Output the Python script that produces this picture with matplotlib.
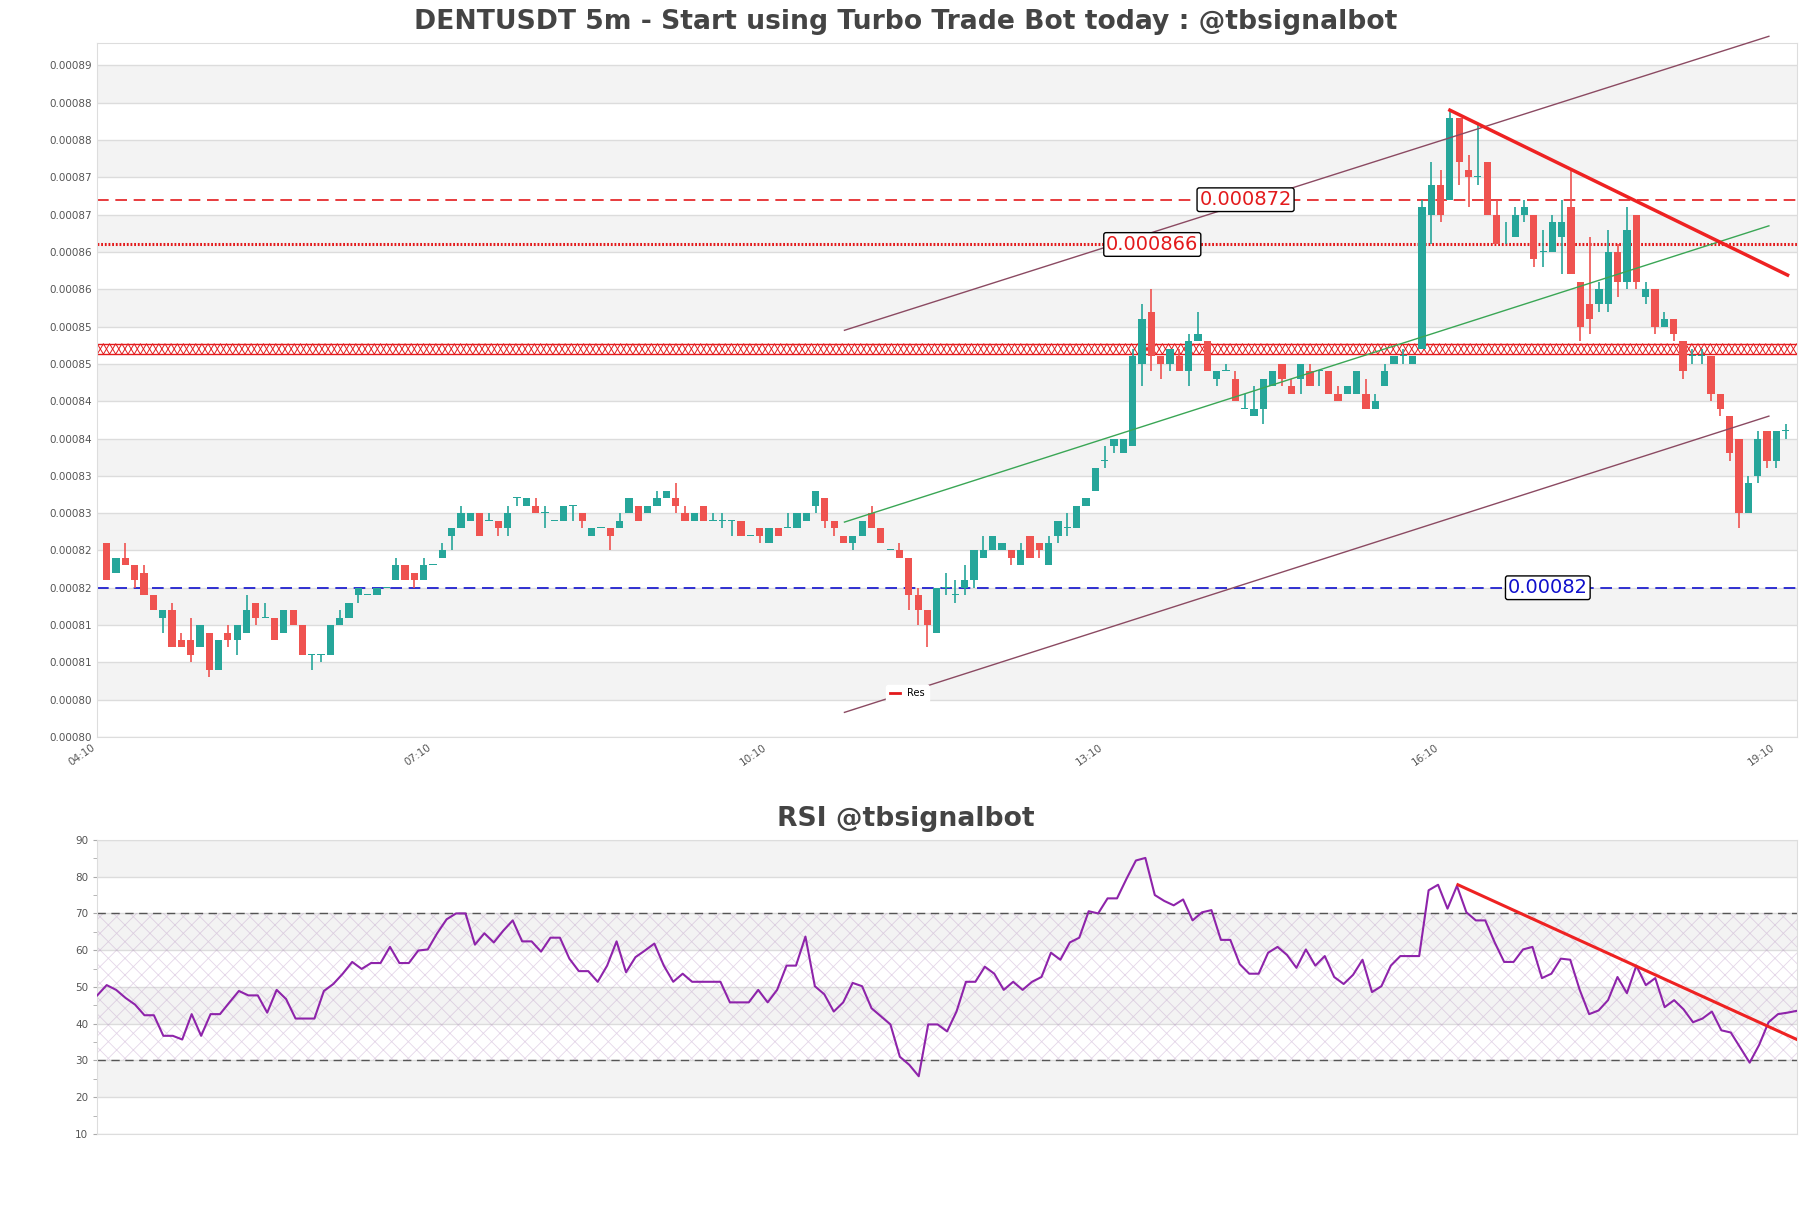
"""DENTUSDT 5m candles with trend channel + RSI panel."""

import math

import matplotlib

matplotlib.use("Agg")
import matplotlib.pyplot as plt  # noqa: E402
import numpy as np  # noqa: E402
import pandas as pd  # noqa: E402
from matplotlib.lines import Line2D  # noqa: E402
from matplotlib.ticker import FuncFormatter, MultipleLocator  # noqa: E402

# --- data (prices in micro-USDT, i.e. x 1e-6) ------------------------------
opens = [826, 822, 824, 823, 822, 819, 816, 817, 813, 813, 812, 814, 809, 814, 813, 814, 818, 816, 816, 814,
         817, 815, 811, 811, 811, 815, 816, 819, 819, 819, 820, 821, 823, 822, 821, 823, 824, 827, 828, 829,
         830, 829, 829, 828, 832, 831, 831, 830, 829, 829, 831, 830, 827, 828, 828, 828, 830, 831, 830, 831,
         832, 832, 830, 829, 831, 829, 829, 829, 829, 827, 828, 826, 828, 828, 828, 829, 831, 832, 829, 827,
         826, 827, 830, 828, 825, 825, 824, 819, 817, 814, 820, 819, 820, 821, 824, 825, 825, 825, 823, 827,
         826, 823, 827, 828, 828, 831, 833, 837, 839, 838, 839, 850, 857, 851, 850, 851, 849, 853, 853, 848,
         849, 848, 844, 843, 844, 847, 850, 847, 848, 849, 849, 849, 846, 846, 846, 846, 844, 847, 850, 851,
         850, 852, 870, 874, 872, 883, 876, 875, 877, 870, 866, 867, 870, 870, 865, 865, 867, 871, 861, 858,
         858, 858, 865, 861, 870, 859, 860, 855, 856, 853, 851, 851, 851, 846, 843, 840, 830, 835, 841, 837,
         841]
closes = [821, 824, 823, 821, 819, 817, 817, 812, 812, 811, 815, 809, 813, 813, 815, 817, 816, 816, 813, 817,
          815, 811, 811, 811, 815, 816, 818, 820, 819, 820, 820, 823, 821, 821, 823, 823, 825, 828, 830, 830,
          827, 829, 828, 830, 832, 832, 830, 830, 829, 831, 831, 829, 828, 828, 827, 829, 832, 829, 831, 832,
          833, 831, 829, 830, 829, 829, 829, 829, 827, 827, 827, 828, 827, 828, 830, 830, 833, 829, 828, 826,
          827, 829, 828, 826, 825, 824, 819, 817, 815, 820, 820, 819, 821, 825, 825, 827, 826, 824, 825, 824,
          825, 826, 829, 828, 831, 832, 836, 837, 840, 840, 851, 856, 851, 850, 852, 849, 853, 854, 849, 849,
          849, 845, 844, 844, 848, 849, 848, 846, 850, 847, 849, 846, 845, 847, 849, 844, 845, 849, 851, 851,
          851, 871, 874, 870, 883, 877, 875, 875, 870, 866, 866, 870, 871, 864, 865, 869, 869, 862, 855, 856,
          860, 865, 861, 868, 861, 860, 855, 856, 854, 849, 851, 851, 846, 844, 838, 830, 834, 840, 837, 841,
          841]
highs = [826, 824, 826, 823, 823, 819, 817, 818, 814, 816, 815, 814, 813, 815, 815, 819, 818, 818, 816, 817,
         817, 815, 811, 811, 815, 817, 818, 820, 819, 820, 820, 824, 823, 822, 824, 823, 826, 828, 831, 830,
         830, 830, 829, 831, 832, 832, 832, 831, 829, 831, 831, 830, 828, 828, 828, 830, 832, 831, 831, 833,
         833, 834, 831, 830, 831, 830, 830, 829, 829, 827, 828, 828, 828, 830, 830, 830, 833, 832, 829, 827,
         827, 829, 831, 828, 825, 826, 824, 820, 817, 820, 822, 821, 823, 825, 827, 827, 826, 825, 826, 827,
         826, 827, 829, 830, 831, 832, 836, 839, 840, 840, 852, 858, 860, 851, 852, 852, 854, 857, 853, 849,
         850, 849, 846, 847, 848, 849, 850, 848, 850, 850, 849, 849, 847, 847, 849, 848, 846, 850, 851, 852,
         851, 872, 877, 876, 884, 883, 878, 882, 877, 872, 869, 871, 872, 870, 868, 870, 872, 876, 861, 867,
         861, 868, 866, 871, 870, 861, 860, 857, 856, 853, 852, 852, 851, 846, 843, 840, 835, 841, 841, 841,
         842]
lows = [821, 822, 823, 820, 819, 817, 814, 812, 812, 810, 812, 808, 809, 812, 811, 814, 815, 816, 813, 814,
        815, 811, 809, 810, 811, 815, 816, 818, 819, 819, 820, 821, 821, 820, 821, 823, 824, 825, 828, 829,
        827, 829, 827, 827, 831, 831, 830, 828, 829, 829, 829, 828, 827, 828, 825, 828, 830, 829, 830, 831,
        832, 830, 829, 829, 829, 829, 828, 827, 827, 827, 826, 826, 827, 828, 828, 829, 830, 828, 827, 826,
        825, 827, 828, 826, 825, 824, 817, 815, 812, 814, 819, 818, 819, 820, 824, 825, 825, 823, 823, 824,
        824, 823, 826, 827, 828, 831, 833, 836, 838, 838, 839, 847, 849, 848, 849, 849, 847, 853, 849, 847,
        849, 845, 844, 843, 842, 847, 847, 846, 846, 847, 847, 846, 845, 846, 846, 844, 844, 847, 850, 850,
        850, 852, 866, 869, 872, 874, 871, 874, 870, 866, 866, 867, 869, 863, 863, 865, 862, 862, 853, 854,
        857, 857, 859, 860, 860, 858, 854, 855, 853, 848, 850, 850, 845, 843, 837, 828, 830, 834, 836, 836,
        840]

rsi = [47.7, 50.5, 49.2, 47.0, 45.2, 42.3, 42.3, 36.7, 36.7, 35.7, 42.6, 36.7, 42.6, 42.6, 45.8, 48.9, 47.7,
       47.7, 43.0, 49.2, 46.7, 41.4, 41.4, 41.4, 48.9, 50.8, 53.6, 56.8, 54.9, 56.5, 56.5, 60.9, 56.5, 56.5,
       59.9, 60.2, 64.6, 68.4, 70.0, 70.0, 61.5, 64.6, 62.1, 65.3, 68.1, 62.4, 62.4, 59.6, 63.4,
       63.4, 57.7, 54.3, 54.3, 51.4, 55.8, 62.4, 54.0, 58.1, 59.9, 61.8, 55.8, 51.4, 53.6, 51.4, 51.4, 51.4,
       51.4, 45.8, 45.8, 45.8, 49.2, 45.8, 49.2, 55.8, 55.8, 63.7, 50.2, 48.0, 43.3, 45.8, 51.1, 50.2, 44.2,
       42.0, 39.8, 31.0, 28.8, 25.7, 39.8, 39.8, 37.9, 43.3, 51.4, 51.4, 55.5, 53.6, 49.2, 51.4, 49.2, 51.4,
       52.7, 59.3, 57.4, 62.1, 63.4, 70.6, 70.0, 74.1, 74.1, 79.4, 84.4, 85.1, 75.0, 73.4, 72.2, 73.8, 68.1,
       70.3, 70.9, 62.8, 62.8, 56.2, 53.6, 53.6, 59.3, 60.9, 58.7, 55.2, 60.2, 55.8, 58.4, 52.7, 50.8, 53.3,
       57.4, 48.6, 50.2, 55.8, 58.4, 58.4, 58.4, 76.3, 77.8, 71.3, 77.5, 70.3, 68.1, 68.1, 62.1, 56.8, 56.8,
       60.2, 60.9, 52.4, 53.6, 57.7, 57.4, 49.2, 42.6, 43.6, 46.4, 52.7, 48.3, 55.8, 50.5, 52.4, 44.5, 46.4,
       43.9, 40.4, 41.4, 43.3, 38.2, 37.6, 33.5, 29.4, 34.2, 40.4, 42.6, 43.0, 43.5]

start_time = "2024-01-01 04:15"
tick_labels_every = 36  # candles between x tick labels (3 h)

# horizontal levels (micro-USDT)
res_dashed = 872
res_dotted = 866
support = 820
zone = (851.3, 852.7)

# trend lines: (x0, y0, x1, y1) in candle index / micro-USDT
channel_upper = (79.1, 854.5, 178.2, 893.9)
channel_mid = (79.1, 828.8, 178.2, 868.5)
channel_lower = (79.1, 803.3, 178.2, 843.0)
down_trend = (144.0, 884.0, 180.2, 861.9)
rsi_trend = (144.1, 77.8, 180.0, 35.7)

UP = "#26a69a"
DOWN = "#ef5350"
BAND = "#f3f3f3"
GRID = "#dcdcdc"
TXT = "#555555"
RED = "#e31a1c"

# --- figure ----------------------------------------------------------------
fig = plt.figure(figsize=(18.11, 12.08), dpi=100)
ax = fig.add_axes([0.0537, 0.3899, 0.9385, 0.5745])
ax2 = fig.add_axes([0.0537, 0.0613, 0.9385, 0.2434])

o = np.array(opens) * 1e-6
c = np.array(closes) * 1e-6
h = np.array(highs) * 1e-6
lo = np.array(lows) * 1e-6
x = np.arange(len(o))
times = pd.date_range(start_time, periods=len(o), freq="5min")
xmin, xmax = -1, 181.2

# background bands between ticks
yticks = np.arange(800, 891, 5) * 1e-6
for k in range(len(yticks) - 1):
    if k % 2 == 1:
        ax.axhspan(yticks[k], yticks[k + 1], color=BAND, lw=0, zorder=0)
for t in yticks:
    ax.axhline(t, color=GRID, lw=1, zorder=0.5)

# candles
cols = np.where(c >= o, UP, DOWN)
body_lo = np.minimum(o, c)
body_h = np.maximum(np.abs(c - o), 0.13e-6)
ax.vlines(x, lo, h, color=cols, lw=1.2, zorder=3)
ax.bar(x, body_h, bottom=body_lo, width=0.78, color=cols, lw=0, zorder=3)

# horizontal levels
ax.axhline(res_dashed * 1e-6, color=RED, lw=1.2, ls=(0, (7, 4)), zorder=2)
ax.axhline(res_dotted * 1e-6, color=RED, lw=2.2, ls=(0, (0.6, 0.6)), zorder=2)
ax.axhline(support * 1e-6, color="#1010cc", lw=1.2, ls=(0, (7, 4)), zorder=2)

# resistance zone: red edges with a cross-hatch drawn as two opposite zigzags
zb, zt = zone[0] * 1e-6, zone[1] * 1e-6
ax.axhline(zb, color=RED, lw=1, zorder=2)
ax.axhline(zt, color=RED, lw=1, zorder=2)
half = 0.66  # half hatch period in candles (~6 px)
zx = np.arange(xmin, xmax + half, half)
zig = np.where(np.arange(len(zx)) % 2 == 0, zb, zt)
zag = np.where(np.arange(len(zx)) % 2 == 0, zt, zb)
ax.plot(zx, zig, color=RED, lw=0.7, zorder=2)
ax.plot(zx, zag, color=RED, lw=0.7, zorder=2)

box = dict(boxstyle="round,pad=0.12", fc="white", ec="black", lw=1)
ax.text(122.1, res_dashed * 1e-6, "0.000872", color=RED, fontsize=14,
        ha="center", va="center", bbox=box, zorder=6)
ax.text(112.1, res_dotted * 1e-6, "0.000866", color=RED, fontsize=14,
        ha="center", va="center", bbox=box, zorder=6)
ax.text(154.5, support * 1e-6, "0.00082", color="#1010cc", fontsize=14,
        ha="center", va="center", bbox=box, zorder=6)

# trend lines
for (x0, y0, x1, y1), col, lw in [(channel_upper, "#8b4a62", 1.0),
                                   (channel_lower, "#8b4a62", 1.0),
                                   (channel_mid, "#3aa655", 1.0),
                                   (down_trend, "#ee2222", 2.5)]:
    ax.plot([x0, x1], [y0 * 1e-6, y1 * 1e-6], color=col, lw=lw, zorder=4,
            clip_on=False)

ax.legend(handles=[Line2D([], [], color=RED, lw=2)], labels=["Res"],
          loc="center", bbox_to_anchor=(0.4767, 0.0627), fontsize=7,
          frameon=True, edgecolor="white", framealpha=1, handlelength=1)

ax.set_xlim(xmin, xmax)
ax.set_ylim(0.000800, 0.000893)
ax.set_yticks(yticks)
ax.yaxis.set_major_formatter(
    FuncFormatter(lambda v, _: f"{math.floor(v * 1e5 + 1e-6) / 1e5:.5f}"))
tpos = np.arange(-1, len(o) + 1, tick_labels_every)
ax.set_xticks(tpos)
ax.set_xticklabels([(times[0] + pd.Timedelta(minutes=5 * int(p))).strftime("%H:%M")
                    for p in tpos], rotation=35, ha="right")
ax.tick_params(axis="both", length=0, labelsize=7.5, labelcolor=TXT, pad=4)
for s in ax.spines.values():
    s.set_color("#dddddd")

# --- RSI -------------------------------------------------------------------
for k in range(8):
    if k % 2 == 1:
        ax2.axhspan(10 + 10 * k, 20 + 10 * k, color=BAND, lw=0, zorder=0)
for t in range(10, 91, 10):
    ax2.axhline(t, color=GRID, lw=1, zorder=0.5)
plt.rcParams["hatch.linewidth"] = 0.6
ax2.axhspan(30, 70, facecolor="none", edgecolor=(0.7, 0.55, 0.75, 0.35),
            hatch="xx", lw=0, zorder=1)
ax2.axhline(70, color="#555555", lw=1, ls=(0, (6, 4)), zorder=2)
ax2.axhline(30, color="#555555", lw=1, ls=(0, (6, 4)), zorder=2)
ax2.plot(np.arange(len(rsi)), rsi, color="#8e24aa", lw=1.5, zorder=3)
ax2.plot([rsi_trend[0], rsi_trend[2]], [rsi_trend[1], rsi_trend[3]],
         color="#ee2222", lw=2.2, zorder=4)
ax2.set_xlim(0, len(rsi) - 1)
ax2.set_ylim(10, 90)
ax2.set_xticks([])
ax2.yaxis.set_major_locator(MultipleLocator(10))
ax2.yaxis.set_minor_locator(MultipleLocator(5))
ax2.tick_params(axis="y", which="both", length=3, color="#aaaaaa",
                labelsize=7.5, labelcolor=TXT)
for s in ax2.spines.values():
    s.set_color("#dddddd")

fig.text(0.5, 1 - 22 / 1208, "DENTUSDT 5m - Start using Turbo Trade Bot today : @tbsignalbot",
         ha="center", va="center", fontsize=19.2, fontweight="bold", color="#444444")
fig.text(0.5, 1 - 819 / 1208, "RSI @tbsignalbot", ha="center", va="center",
         fontsize=19.2, fontweight="bold", color="#444444")

fig.savefig("out.png", dpi=100)
plt.close(fig)
